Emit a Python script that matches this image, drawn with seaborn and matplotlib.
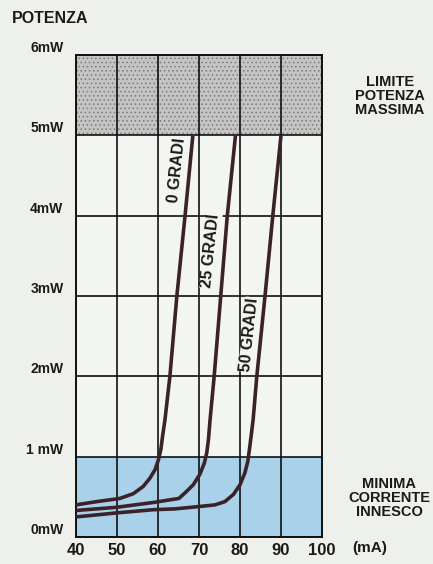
import pandas as pd
import matplotlib
matplotlib.use("Agg")
import matplotlib.pyplot as plt
import seaborn as sns

# curve data (current in mA, power in mW)
ma_0 = [40, 45, 50.7, 54.0, 56.4, 58.0, 59.3, 60.1, 60.7, 61.1, 61.7, 62.9, 64.6, 66.6, 68.5]
mw_0 = [0.40, 0.44, 0.48, 0.54, 0.63, 0.73, 0.84, 0.96, 1.09, 1.25, 1.46, 2, 3, 4, 5]

ma_25 = [40, 49.9, 58.9, 65.1, 66.6, 68.6, 70.2, 71.3, 71.9, 72.3, 72.7, 73.7, 75.3, 76.9, 78.9]
mw_25 = [0.33, 0.37, 0.43, 0.48, 0.55, 0.65, 0.78, 0.92, 1.05, 1.21, 1.46, 2, 3, 4, 5]

ma_50 = [40, 49.9, 58.9, 64.1, 70.2, 73.9, 76.3, 78.4, 80.0, 81.2, 81.9, 82.3, 82.7, 83.2,
         84.1, 86.1, 88.0, 90.0]
mw_50 = [0.25, 0.30, 0.34, 0.35, 0.38, 0.40, 0.44, 0.53, 0.65, 0.80, 0.94, 1.09, 1.25, 1.46,
         2, 3, 4, 5]

curve_labels = ["0 GRADI", "25 GRADI", "50 GRADI"]
label_pos = [(64.6, 4.56), (72.9, 3.56), (82.4, 2.52)]

x_ticks = [40, 50, 60, 70, 80, 90, 100]
y_ticks = [0, 1, 2, 3, 4, 5, 6]
y_labels = ["0mW", "1 mW", "2mW", "3mW", "4mW", "5mW", "6mW"]

# build one long table
df = pd.concat([
    pd.DataFrame({"mA": ma_0, "mW": mw_0, "curve": curve_labels[0]}),
    pd.DataFrame({"mA": ma_25, "mW": mw_25, "curve": curve_labels[1]}),
    pd.DataFrame({"mA": ma_50, "mW": mw_50, "curve": curve_labels[2]}),
])

sns.set_style("white")
plt.rcParams["font.family"] = ["Liberation Sans", "DejaVu Sans"]
plt.rcParams["font.weight"] = "bold"
plt.rcParams["hatch.linewidth"] = 0.6

ink = "#1a1a1a"
bg = "#eef0ec"
fig = plt.figure(figsize=(4.33, 5.64), dpi=100, facecolor=bg)
ax = fig.add_axes([76 / 433, 27 / 564, 246 / 433, 482 / 564])
ax.set_facecolor("#f3f5f1")

# shaded bands
ax.axhspan(5, 6, facecolor="#c4c4c4", edgecolor="#7a7a7a", hatch="....", linewidth=0, zorder=0)
ax.axhspan(0, 1, facecolor="#a9d2ea", linewidth=0, zorder=0)

# curves
sns.lineplot(data=df, x="mA", y="mW", units="curve", estimator=None, sort=False,
             color="#3b2229", linewidth=2.6, ax=ax, zorder=3,
             solid_capstyle="butt", solid_joinstyle="round")

# curve labels along the lines
for text, (x, y) in zip(curve_labels, label_pos):
    ax.text(x, y, text, rotation=84, ha="center", va="center", fontsize=11.5,
            fontweight="bold", color=ink, zorder=4,
            bbox=dict(facecolor="#f3f5f1", edgecolor="none", pad=0.3))

ax.set_xlim(40, 100)
ax.set_ylim(0, 6)
ax.set_xticks(x_ticks)
ax.set_yticks(y_ticks)
ax.set_xticklabels([str(v) for v in x_ticks], fontsize=12, fontweight="bold", color=ink)
ax.set_yticklabels(y_labels, fontsize=10, fontweight="bold", color=ink, va="bottom")
ax.tick_params(axis="x", length=0, pad=4)
ax.tick_params(axis="y", length=0, pad=9)
ax.grid(True, color="#111111", linewidth=1.2, zorder=1)
ax.set_axisbelow(False)
for sp in ax.spines.values():
    sp.set_color("#111111")
    sp.set_linewidth(1.4)
ax.set_xlabel("")
ax.set_ylabel("")

# outside texts
fig.text(12 / 433, 1 - 18.5 / 564, "POTENZA", fontsize=11.5, fontweight="bold", color=ink, va="center")
fig.text(370 / 433, 1 - 548 / 564, "(mA)", fontsize=11, fontweight="bold", color=ink,
         ha="center", va="center")
fig.text(390 / 433, 1 - 96 / 564, "LIMITE\nPOTENZA\nMASSIMA", fontsize=10.5, fontweight="bold",
         color=ink, ha="center", va="center", linespacing=1.0)
fig.text(389 / 433, 1 - 498 / 564, "MINIMA\nCORRENTE\nINNESCO", fontsize=10.5, fontweight="bold",
         color=ink, ha="center", va="center", linespacing=1.0)

fig.savefig("out.png", dpi=100, facecolor=bg)
